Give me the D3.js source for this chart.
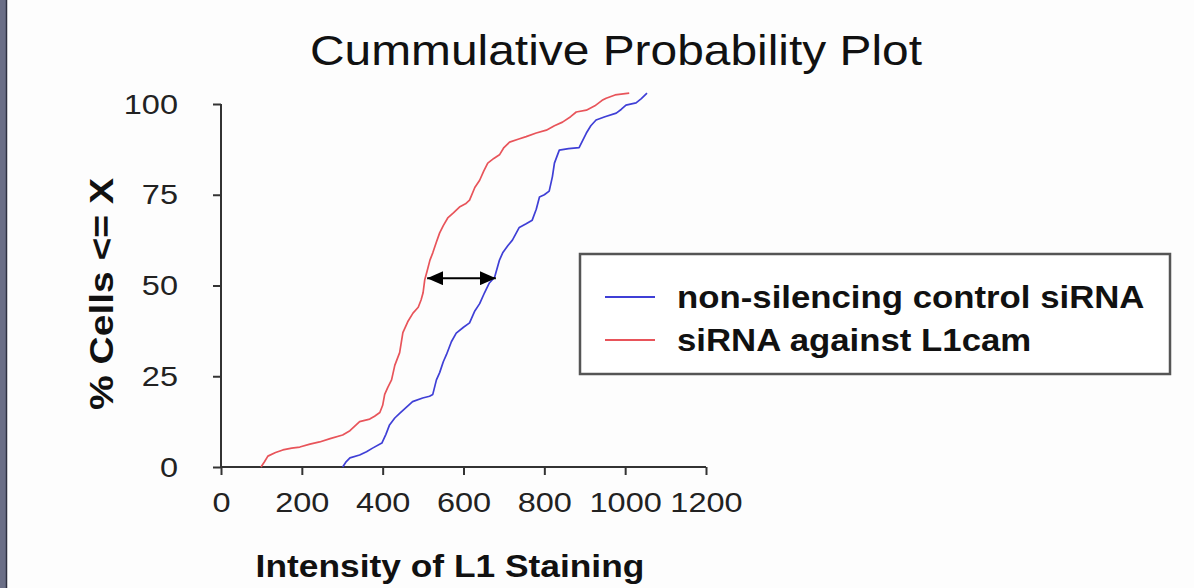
<!DOCTYPE html>
<html>
<head>
<meta charset="utf-8">
<script src="https://cdn.jsdelivr.net/npm/d3@7"></script>
<style>
  html, body { margin: 0; padding: 0; background: #fdfdfd; }
  svg { display: block; font-family: "Liberation Sans", Arial, sans-serif; }
</style>
</head>
<body>
<svg id="chart" width="1194" height="588"></svg>
<script>
// ---- data ----
const title = "Cummulative Probability Plot";
const xTitle = "Intensity of L1 Staining";
const yTitle = "% Cells <= X";
const seriesNames = ["non-silencing control siRNA", "siRNA against L1cam"];
const seriesColors = ["#3f3fd6", "#e8545a"];
const xTicks = [0, 200, 400, 600, 800, 1000, 1200];
const yTicks = [0, 25, 50, 75, 100];

// [intensity, cumulative %]
const controlValues = [
  [301,0],[310,1.5],[319,2.5],[343,3.3],[360,4.2],[375,5.2],[398,6.6],[408,9],[417,11.6],
  [430,13.5],[442,14.8],[459,16.5],[474,18],[499,19],[516,19.5],[524,20],[533,24],[541,26],
  [550,29],[558,31],[570,34.5],[582,36.9],[600,38.5],[615,39.7],[628,43],[640,45],[652,48],
  [664,50.7],[677,52.3],[689,57],[697,59],[710,61],[721,62.5],[738,66],[755,67],[770,68],
  [780,71],[788,74.4],[800,75],[812,76],[820,80],[825,83.7],[837,87.3],[860,87.7],[886,88],
  [895,90],[904,92],[915,94],[928,95.6],[950,96.5],[978,97.5],[990,98.5],[1002,99.7],
  [1027,100.3],[1040,101.5],[1054,103]
];
const l1camValues = [
  [99,0],[108,1.5],[116,3],[135,4],[153,4.7],[175,5.2],[195,5.5],[220,6.3],[244,6.9],
  [270,7.8],[301,8.8],[319,10],[343,12.5],[368,13.2],[380,14],[393,15],[400,17],[405,20],
  [413,22],[422,24],[430,28],[442,31.5],[450,37],[462,40],[475,42.4],[488,44],[495,46],
  [500,48],[504,51.5],[510,54],[517,57],[524,59],[533,62],[541,64.5],[550,66.5],[561,68.6],
  [575,70],[590,71.6],[605,72.5],[615,73.5],[628,77],[640,79],[650,81.5],[660,83.7],
  [675,85],[689,86],[700,88],[714,89.5],[735,90.3],[755,91],[780,92],[805,92.8],[825,94],
  [845,95],[865,96.5],[879,97.8],[904,98.3],[925,99.5],[943,101],[953,101.6],[975,102.5],
  [1010,103]
];
// double-headed arrow at the 50% level between the two curves
const arrowLevel = 52;
const arrowFrom = 510;
const arrowTo = 680;

// ---- layout ----
const svg = d3.select("#chart");
const X0 = 221, X1 = 706, Y0 = 467, Y1 = 104;
const x = d3.scaleLinear().domain([0, 1200]).range([X0, X1]);
const y = d3.scaleLinear().domain([0, 100]).range([Y0, Y1]);
const SX = 1.14; // horizontal stretch of the original image

function stretch(sel, f) {
  sel.each(function() {
    const t = d3.select(this);
    t.attr("textLength", this.getComputedTextLength() * f)
     .attr("lengthAdjust", "spacingAndGlyphs");
  });
}

// background + left border strip
svg.append("rect").attr("width", 1194).attr("height", 588).attr("fill", "#fdfdfd");
svg.append("rect").attr("x", 0).attr("y", 0).attr("width", 6).attr("height", 588).attr("fill", "#6a6e86");
svg.append("line").attr("x1", 6.5).attr("x2", 6.5).attr("y1", 0).attr("y2", 588)
  .attr("stroke", "#2e3040").attr("stroke-width", 1.5);

// title
const tt = svg.append("text").attr("x", 616).attr("y", 65).attr("text-anchor", "middle")
  .attr("font-size", 42).attr("fill", "#111").text(title);
stretch(tt, SX);

// axes
const yAxis = svg.append("g").attr("transform", `translate(${X0},0)`)
  .call(d3.axisLeft(y).tickValues(yTicks).tickFormat(d3.format("d"))
    .tickSize(8).tickSizeOuter(0).tickPadding(35));
const xAxis = svg.append("g").attr("transform", `translate(0,${Y0})`)
  .call(d3.axisBottom(x).tickValues(xTicks).tickFormat(d3.format("d"))
    .tickSize(8).tickSizeOuter(0).tickPadding(17));
[yAxis, xAxis].forEach(a => {
  a.select(".domain").attr("stroke", "#333").attr("stroke-width", 2);
  a.selectAll(".tick line").attr("stroke", "#333").attr("stroke-width", 2);
  a.selectAll(".tick text").attr("font-size", 28.5).attr("fill", "#222")
    .attr("font-family", "'Liberation Sans', Arial, sans-serif");
  stretch(a.selectAll(".tick text"), SX);
});
yAxis.select(".domain").attr("d", `M0,${Y0}V${Y1}`);
xAxis.select(".domain").attr("d", `M${X0},0H${X1}`);

// axis titles
const xt = svg.append("text").attr("x", 450).attr("y", 577).attr("text-anchor", "middle")
  .attr("font-size", 31).attr("font-weight", "bold").attr("fill", "#111").text(xTitle);
stretch(xt, SX);
const yt = svg.append("text").attr("transform", "translate(113,294) rotate(-90)")
  .attr("text-anchor", "middle").attr("font-size", 33).attr("font-weight", "bold")
  .attr("fill", "#111").text(yTitle);
yt.attr("textLength", 232).attr("lengthAdjust", "spacingAndGlyphs");

// curves
const line = d3.line().x(d => x(d[0])).y(d => y(d[1]));
[controlValues, l1camValues].forEach((vals, i) => {
  svg.append("path").datum(vals).attr("d", line).attr("fill", "none")
    .attr("stroke", seriesColors[i]).attr("stroke-width", 1.7).attr("stroke-linejoin", "round");
});

// arrow
const defs = svg.append("defs");
defs.append("marker").attr("id", "ah").attr("viewBox", "0 0 10 10").attr("refX", 10).attr("refY", 5)
  .attr("markerWidth", 8).attr("markerHeight", 7).attr("markerUnits", "strokeWidth")
  .attr("orient", "auto-start-reverse").attr("preserveAspectRatio", "none")
  .append("path").attr("d", "M0,0L10,5L0,10Z").attr("fill", "#000");
svg.append("line").attr("x1", x(arrowFrom)).attr("x2", x(arrowTo))
  .attr("y1", y(arrowLevel)).attr("y2", y(arrowLevel))
  .attr("stroke", "#000").attr("stroke-width", 2)
  .attr("marker-start", "url(#ah)").attr("marker-end", "url(#ah)");

// legend
const lg = svg.append("g");
lg.append("rect").attr("x", 580).attr("y", 254).attr("width", 590).attr("height", 120)
  .attr("fill", "#fff").attr("stroke", "#555").attr("stroke-width", 2.5);
seriesNames.forEach((name, i) => {
  const cy = 297 + i * 43;
  lg.append("line").attr("x1", 605).attr("x2", 655).attr("y1", cy).attr("y2", cy)
    .attr("stroke", seriesColors[i]).attr("stroke-width", 2);
  const t = lg.append("text").attr("x", 677).attr("y", cy + 11).attr("font-size", 30.5)
    .attr("font-weight", "bold").attr("fill", "#111").text(name);
  stretch(t, SX);
});
</script>
</body>
</html>
